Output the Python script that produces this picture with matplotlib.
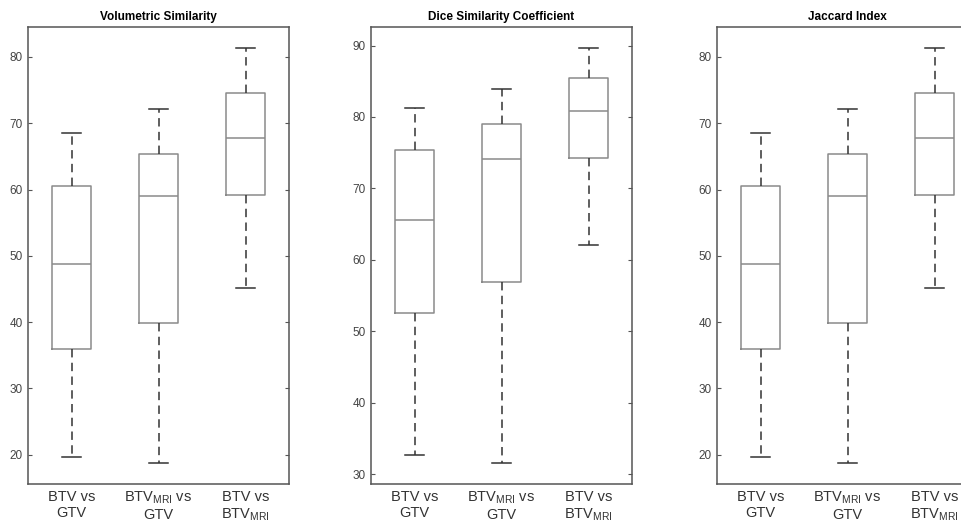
import matplotlib
matplotlib.use("Agg")
import matplotlib.pyplot as plt

plt.rcParams['font.family'] = ['Liberation Sans', 'DejaVu Sans']
plt.rcParams['mathtext.fontset'] = 'custom'
plt.rcParams['mathtext.rm'] = 'Liberation Sans'

# x categories
labels = ['BTV vs\nGTV', 'BTV$_{\\mathrm{MRI}}$ vs\nGTV', 'BTV vs\nBTV$_{\\mathrm{MRI}}$']

# box stats per panel: (whislo, q1, med, q3, whishi)
vs_stats = [(19.6, 35.9, 48.8, 60.6, 68.5),
            (18.8, 39.9, 59.0, 65.3, 72.2),
            (45.2, 59.2, 67.8, 74.6, 81.4)]
dice_stats = [(32.6, 52.6, 65.6, 75.4, 81.3),
              (31.6, 56.9, 74.1, 79.0, 83.9),
              (62.1, 74.3, 80.8, 85.4, 89.7)]
jac_stats = [(19.6, 35.9, 48.8, 60.6, 68.5),
             (18.8, 39.9, 59.0, 65.3, 72.2),
             (45.2, 59.2, 67.8, 74.6, 81.4)]

titles = ['Volumetric Similarity', 'Dice Similarity Coefficient', 'Jaccard Index']
panels = [vs_stats, dice_stats, jac_stats]
ylims = [(15.6, 84.5), (28.6, 92.6), (15.6, 84.5)]
lefts = [28, 371, 717]

fig = plt.figure(figsize=(9.61, 5.24), dpi=100)

for title, stats, ylim, left in zip(titles, panels, ylims, lefts):
    ax = fig.add_axes([left / 961, 40 / 524, 261 / 961, 457 / 524])
    bxp_stats = []
    for lab, (lo, q1, med, q3, hi) in zip(labels, stats):
        bxp_stats.append(dict(whislo=lo, q1=q1, med=med, q3=q3, whishi=hi, fliers=[], label=lab))
    ax.bxp(bxp_stats, positions=[1, 2, 3], widths=0.45, capwidths=0.22, showfliers=False,
           boxprops=dict(color='#8a8a8a', linewidth=1.1),
           medianprops=dict(color='#8a8a8a', linewidth=1.1),
           whiskerprops=dict(color='#333333', linewidth=1.1, linestyle=(0, (5.5, 3.5))),
           capprops=dict(color='#333333', linewidth=1.1))
    ax.set_xlim(0.5, 3.5)
    ax.set_ylim(*ylim)
    ax.set_title(title, fontsize=8.5, fontweight='bold', pad=5)
    ax.tick_params(axis='y', direction='in', length=3, right=True, labelsize=8.5,
                   labelcolor='#444444', color='#555555', pad=4)
    ax.tick_params(axis='x', length=0, labelsize=10.5, labelcolor='#333333', pad=4)
    for s in ax.spines.values():
        s.set_color('#555555')
        s.set_linewidth(1.1)

fig.savefig('out.png', dpi=100)
